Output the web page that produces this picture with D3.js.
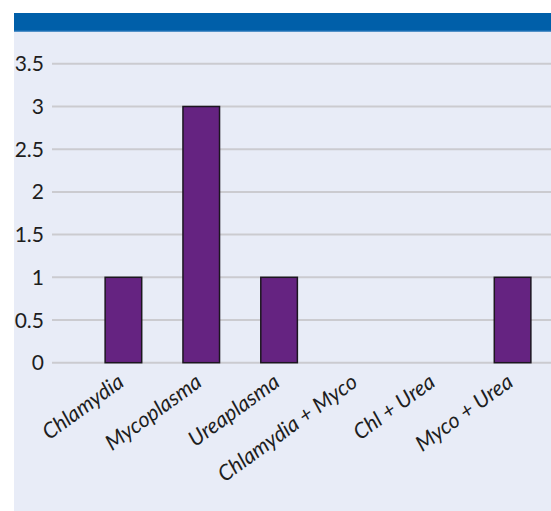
<!DOCTYPE html>
<html>
<head>
<meta charset="utf-8">
<script src="https://cdn.jsdelivr.net/npm/d3@7/dist/d3.min.js"></script>
<style>
  html, body { margin: 0; padding: 0; background: #ffffff; }
  svg { display: block; }
</style>
</head>
<body>
<svg id="chart" width="551" height="511"></svg>
<script>
// Infection counts per organism group
const categories = ["Chlamydia", "Mycoplasma", "Ureaplasma", "Chlamydia + Myco", "Chl + Urea", "Myco + Urea"];
const counts = [1, 3, 1, 0, 0, 1];
const yTicks = [0, 0.5, 1, 1.5, 2, 2.5, 3, 3.5];

const svg = d3.select("#chart");
const W = 551, H = 511;

// Panel and header strip
svg.append("rect")
  .attr("x", 14).attr("y", 13)
  .attr("width", W - 14).attr("height", H - 13)
  .attr("fill", "#e8ecf7");
svg.append("rect")
  .attr("x", 14).attr("y", 13)
  .attr("width", W - 14).attr("height", 18.5)
  .attr("fill", "#005fa9");
svg.append("rect")
  .attr("x", 14).attr("y", 30.5)
  .attr("width", W - 14).attr("height", 1)
  .attr("fill", "#2f7dbd");

const y = d3.scaleLinear().domain([0, 3.5]).range([362.7, 63.8]);
const x = d3.scaleBand()
  .domain(categories)
  .range([84.5, 551.5])
  .paddingInner(0.53)
  .paddingOuter(0.265);

const font = "Lato, 'Open Sans', sans-serif";

// Horizontal gridlines
svg.append("g")
  .selectAll("line")
  .data(yTicks)
  .join("line")
  .attr("x1", 52).attr("x2", W)
  .attr("y1", d => y(d)).attr("y2", d => y(d))
  .attr("stroke", "#cbcbd0")
  .attr("stroke-width", 2);

// Y tick labels
svg.append("g")
  .selectAll("text")
  .data(yTicks)
  .join("text")
  .attr("x", 44)
  .attr("y", d => y(d))
  .attr("dy", "0.36em")
  .attr("text-anchor", "end")
  .attr("font-family", font)
  .attr("font-size", 21)
  .attr("fill", "#1e1e1e")
  .text(d => d3.format("~g")(d));

// Bars
svg.append("g")
  .selectAll("rect")
  .data(categories.map((c, i) => ({ c, v: counts[i] })))
  .join("rect")
  .filter(d => d.v > 0)
  .attr("x", d => x(d.c))
  .attr("y", d => y(d.v))
  .attr("width", x.bandwidth())
  .attr("height", d => y(0) - y(d.v))
  .attr("fill", "#652381")
  .attr("stroke", "#1c1620")
  .attr("stroke-width", 1.5);

// Rotated category labels
svg.append("g")
  .selectAll("text")
  .data(categories)
  .join("text")
  .attr("transform", d => `translate(${x(d) + x.bandwidth() / 2 + 2},${385}) rotate(-36)`)
  .attr("text-anchor", "end")
  .attr("font-family", font)
  .attr("font-style", "italic")
  .attr("font-size", 21.5)
  .attr("fill", "#1e1e1e")
  .text(d => d);
</script>
</body>
</html>
